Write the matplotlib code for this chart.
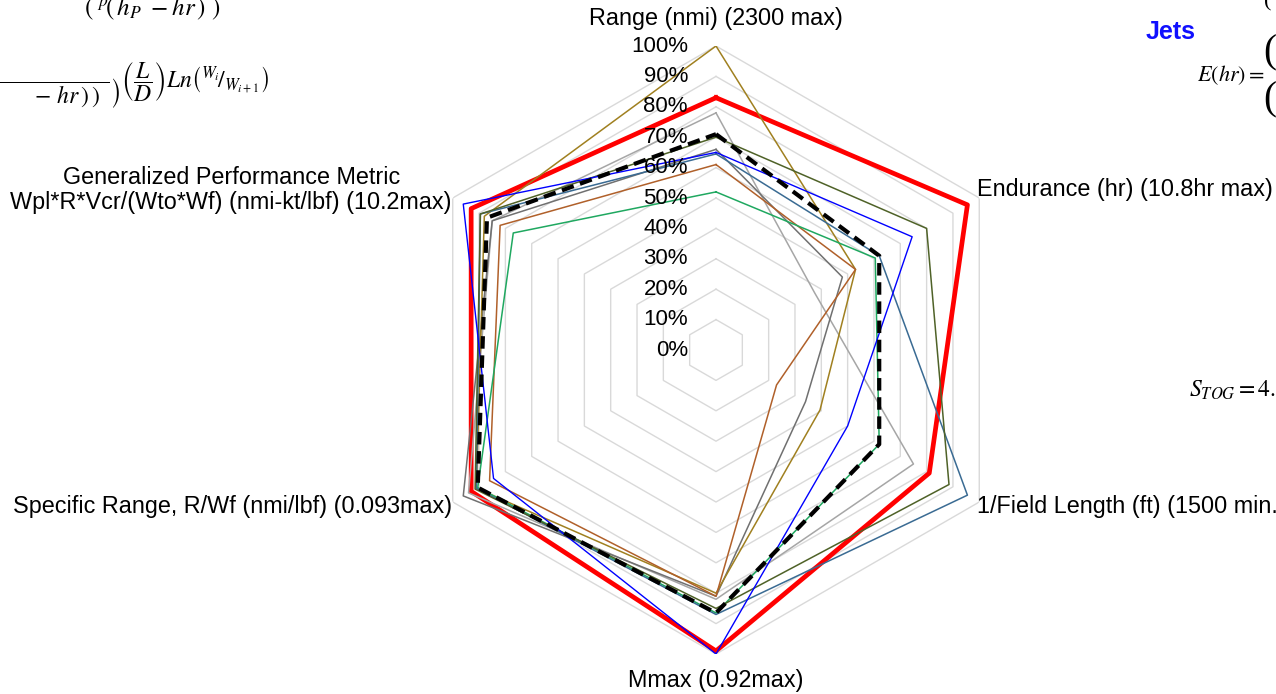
import numpy as np
import matplotlib
matplotlib.use("Agg")
import matplotlib.pyplot as plt
from matplotlib.transforms import offset_copy

plt.rcParams['font.family'] = ['Liberation Sans', 'DejaVu Sans']
plt.rcParams['mathtext.fontset'] = 'stix'

# axes of the radar, clockwise from the top
axis_labels = [
    "Range (nmi) (2300 max)",
    "Endurance (hr) (10.8hr max)",
    "1/Field Length (ft) (1500 min.)",
    "Mmax (0.92max)",
    "Specific Range, R/Wf (nmi/lbf) (0.093max)",
    "Generalized Performance Metric\nWpl*R*Vcr/(Wto*Wf) (nmi-kt/lbf) (10.2max)",
]
ring_levels = [0.0, 0.1, 0.2, 0.3, 0.4, 0.5, 0.6, 0.7, 0.8, 0.9, 1.0]
ring_labels = ["0%", "10%", "20%", "30%", "40%", "50%", "60%", "70%", "80%", "90%", "100%"]

# normalised scores per aircraft (fraction of max)
jet_gray_light = [0.78, 0.375, 0.75, 0.82, 0.94, 0.85]
jet_gray_dark = [0.66, 0.48, 0.34, 0.81, 0.96, 0.85]
jet_gold = [1.00, 0.53, 0.395, 0.80, 0.91, 0.88]
jet_brown = [0.61, 0.53, 0.23, 0.81, 0.86, 0.82]
jet_green = [0.52, 0.605, 0.62, 0.865, 0.905, 0.77]
jet_steel = [0.645, 0.62, 0.955, 0.87, 0.91, 0.895]
jet_olive = [0.70, 0.80, 0.885, 0.85, 0.915, 0.895]
jet_blue = [0.65, 0.745, 0.50, 1.00, 0.845, 0.96]
jet_red = [0.83, 0.955, 0.81, 0.99, 0.93, 0.93]
jet_avg = [0.71, 0.62, 0.62, 0.865, 0.905, 0.87]

W, H = 1276, 694
fig = plt.figure(figsize=(W / 100, H / 100), dpi=100)

# centre of the radar and 100% radius, in pixels
cx, cy, R = 716, 350, 304
ax = fig.add_axes([(cx - R) / W, (H - cy - R) / H, 2 * R / W, 2 * R / H],
                  projection='polar')
ax.set_theta_zero_location('N')
ax.set_theta_direction(-1)
ax.set_ylim(0, 1)
ax.set_axis_off()

n = len(axis_labels)
theta = np.linspace(0, 2 * np.pi, n, endpoint=False)
theta_c = np.append(theta, theta[0])

def closed(vals):
    return np.append(vals, vals[0])

# hexagonal gridlines
for lv in ring_levels[1:]:
    ax.plot(theta_c, [lv] * (n + 1), color='#d9d9d9', lw=1.0, zorder=1)

# percent labels along the vertical axis
lab_tr = offset_copy(ax.transData, fig=fig, x=-28, y=0, units='dots')
for lv, txt in zip(ring_levels, ring_labels):
    ax.text(0, lv, txt, transform=lab_tr, ha='right', va='center',
            fontsize=16, color='black', zorder=6)

series = [
    (jet_red, '#ff0000', 3.4, '-'),
    (jet_gray_light, '#a6a6a6', 1.1, '-'),
    (jet_gray_dark, '#707070', 1.1, '-'),
    (jet_gold, '#a08020', 1.1, '-'),
    (jet_brown, '#b0602a', 1.1, '-'),
    (jet_green, '#1fa860', 1.1, '-'),
    (jet_steel, '#3a6b93', 1.1, '-'),
    (jet_olive, '#4f6228', 1.1, '-'),
    (jet_blue, '#0000ff', 1.0, '-'),
]
for vals, col, lw, ls in series:
    ax.plot(theta_c, closed(vals), color=col, lw=lw, ls=ls, zorder=3)
ax.plot(theta_c, closed(jet_avg), color='black', lw=3.0, ls=(0, (3, 1.6)), zorder=4)

# axis titles
def px(x, y):
    return x / W, 1 - y / H

fs = 16.8
fig.text(*px(716, 19), axis_labels[0], ha='center', va='center', fontsize=fs)
fig.text(*px(977, 190), axis_labels[1], ha='left', va='center', fontsize=fs)
fig.text(*px(977, 507), axis_labels[2], ha='left', va='center', fontsize=fs)
fig.text(*px(716, 680), axis_labels[3], ha='center', va='center', fontsize=fs)
fig.text(*px(452, 507), axis_labels[4], ha='right', va='center', fontsize=fs)
fig.text(*px(452, 190), axis_labels[5], ha='right', va='center', fontsize=fs,
         multialignment='center', linespacing=1.1)

# bits of the surrounding slide
fig.text(*px(1171, 32), "Jets", ha='center', va='center', fontsize=18,
         fontweight='bold', color='#1010ff')
fig.text(*px(84, 22), r"$\left(\ {}^{p}\!\left(\,h_{P}\ -hr\,\right)\ \right)$",
         ha='left', va='bottom', fontsize=18)
fig.text(*px(-12, 86),
         r"$\left.\dfrac{\qquad\qquad\qquad\quad}{\qquad -\,hr\,)\,)}\right)"
         r"\left(\dfrac{L}{D}\right)Ln\left({}^{W_i}\!/{}_{W_{i+1}}\right)$",
         ha='left', va='center', fontsize=17)
fig.text(*px(1197, 75), r"$E(hr)=$", ha='left', va='center', fontsize=16)
for yb in (53, 100):
    fig.text(*px(1263, yb), "(", ha='left', va='center', fontsize=28,
             family='Liberation Serif')
fig.text(*px(1264, 2), "(", ha='left', va='center', fontsize=16,
         family='Liberation Serif')
fig.text(*px(1189, 390), r"$S_{TOG}=4.9$", ha='left', va='center', fontsize=17)

fig.savefig("out.png", dpi=100)
